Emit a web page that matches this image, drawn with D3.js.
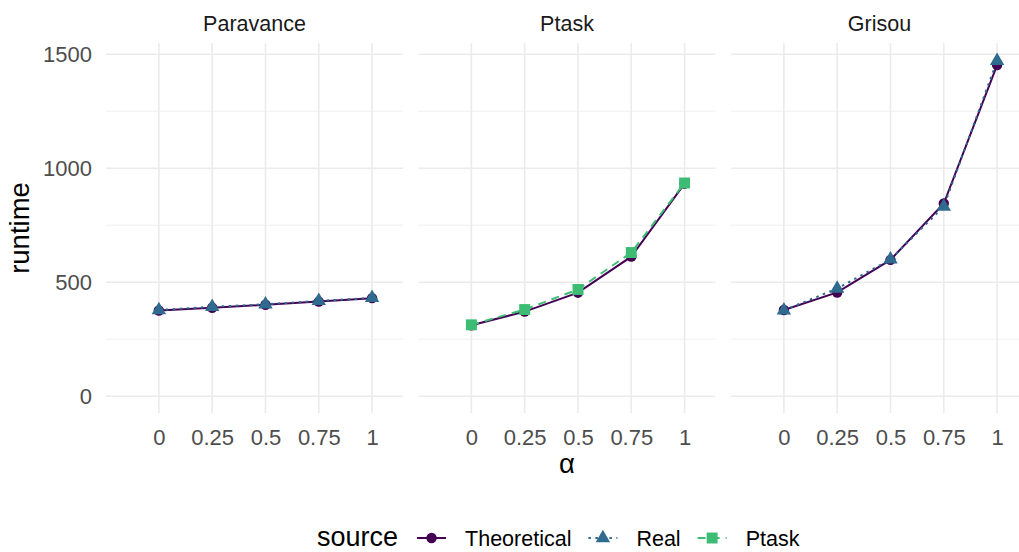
<!DOCTYPE html>
<html>
<head>
<meta charset="utf-8">
<script src="https://cdn.jsdelivr.net/npm/d3@7"></script>
<style>
  body { margin: 0; background: #fff; }
  svg { font-family: "Liberation Sans", Arial, sans-serif; }
</style>
</head>
<body>
<script>
// data
let alphas = [0, 0.25, 0.5, 0.75, 1]
let facets = ["Paravance", "Ptask", "Grisou"]
let sources = ["Theoretical", "Real", "Ptask"]
let colors = ["#440154", "#2F6B8E", "#3DBC74"]
let dashes = [null, "2.5,4.5", "8,6"]

let theoretical = {
  Paravance: [376, 388, 401, 415, 430],
  Ptask: [311, 371, 454, 612, 932],
  Grisou: [378, 455, 598, 845, 1452]
}
let real = {
  Paravance: [378, 392, 403, 418, 431],
  Grisou: [377, 472, 600, 832, 1471]
}
let ptask = {
  Ptask: [313, 380, 468, 630, 935]
}
let seriesBySource = [theoretical, real, ptask]

let yTicks = [0, 500, 1000, 1500]
let yMinor = [250, 750, 1250]
let xTickLabels = ["0", "0.25", "0.5", "0.75", "1"]

let width = 1019, height = 552
let panelLefts = [106, 418.5, 731]
let panelW = 297
let panelTop = 43.3, panelBottom = 413

let svg = d3.select("body").append("svg")
  .attr("width", width)
  .attr("height", height)

let y = d3.scaleLinear().domain([-73.7, 1547.7]).range([panelBottom, panelTop])

facets.forEach((f, i) => {
  let x = d3.scaleLinear().domain([-0.248, 1.145]).range([panelLefts[i], panelLefts[i] + panelW])
  let g = svg.append("g")

  // grid
  g.selectAll(".ymin").data(yMinor).enter().append("line")
    .attr("x1", x.range()[0]).attr("x2", x.range()[1])
    .attr("y1", d => y(d)).attr("y2", d => y(d))
    .attr("stroke", "#EBEBEB").attr("stroke-width", 0.8)
  g.selectAll(".ymaj").data(yTicks).enter().append("line")
    .attr("x1", x.range()[0]).attr("x2", x.range()[1])
    .attr("y1", d => y(d)).attr("y2", d => y(d))
    .attr("stroke", "#EBEBEB").attr("stroke-width", 1.6)
  g.selectAll(".xmaj").data(alphas).enter().append("line")
    .attr("x1", d => x(d)).attr("x2", d => x(d))
    .attr("y1", panelTop).attr("y2", panelBottom)
    .attr("stroke", "#EBEBEB").attr("stroke-width", 1.6)

  // strip
  g.append("text")
    .attr("x", (x.range()[0] + x.range()[1]) / 2)
    .attr("y", 30.5)
    .attr("text-anchor", "middle")
    .attr("font-size", 21.5)
    .attr("fill", "#1A1A1A")
    .text(f)

  // x axis
  let xAxis = g.append("g")
    .attr("transform", `translate(0,${panelBottom})`)
    .call(d3.axisBottom(x).tickValues(alphas).tickSize(0).tickPadding(16)
      .tickFormat((d, j) => xTickLabels[j]))
  xAxis.select(".domain").remove()
  xAxis.selectAll("text").attr("font-size", 22).attr("fill", "#4D4D4D")
    .attr("font-family", "Liberation Sans, Arial, sans-serif")

  if (i == 0) {
    let yAxis = g.append("g")
      .attr("transform", `translate(${x.range()[0]},0)`)
      .call(d3.axisLeft(y).tickValues(yTicks).tickSize(0).tickPadding(14)
        .tickFormat(d3.format("d")))
    yAxis.select(".domain").remove()
    yAxis.selectAll("text").attr("font-size", 22).attr("fill", "#4D4D4D")
      .attr("font-family", "Liberation Sans, Arial, sans-serif")
  }

  let line = d3.line().x((d, j) => x(alphas[j])).y(d => y(d))

  // lines
  seriesBySource.forEach((s, k) => {
    if (!s[f]) return
    g.append("path")
      .datum(s[f])
      .attr("d", line)
      .attr("fill", "none")
      .attr("stroke", colors[k])
      .attr("stroke-width", 2)
      .attr("stroke-dasharray", dashes[k])
  })

  // points
  seriesBySource.forEach((s, k) => {
    if (!s[f]) return
    g.append("g").selectAll("path")
      .data(s[f])
      .enter()
      .append("path")
        .attr("transform", (d, j) => `translate(${x(alphas[j])},${y(d)})`)
        .attr("d", symbolPath(k))
        .attr("fill", colors[k])
  })
})

function symbolPath(k) {
  if (k == 0) return d3.symbol(d3.symbolCircle, 85)()
  if (k == 1) return d3.symbol(d3.symbolTriangle, 90)()
  return d3.symbol(d3.symbolSquare, 120)()
}

// axis titles
svg.append("text")
  .attr("transform", `translate(29,228) rotate(-90)`)
  .attr("text-anchor", "middle")
  .attr("font-size", 27.5)
  .attr("fill", "#000")
  .text("runtime")

svg.append("text")
  .attr("x", 567)
  .attr("y", 473)
  .attr("text-anchor", "middle")
  .attr("font-size", 27.5)
  .attr("fill", "#000")
  .text("α")

// legend
let legend = svg.append("g").attr("transform", "translate(0,538)")
let lx = 317
let title = legend.append("text")
  .attr("x", lx).attr("y", 8)
  .attr("font-size", 27)
  .text("source")
lx += title.node().getComputedTextLength() + 19

sources.forEach((s, k) => {
  legend.append("line")
    .attr("x1", lx).attr("x2", lx + 29)
    .attr("y1", 0).attr("y2", 0)
    .attr("stroke", colors[k])
    .attr("stroke-width", 2)
    .attr("stroke-dasharray", dashes[k])
  legend.append("path")
    .attr("transform", `translate(${lx + 14.5},0)`)
    .attr("d", symbolPath(k))
    .attr("fill", colors[k])
  lx += 29 + 19
  let t = legend.append("text")
    .attr("x", lx).attr("y", 8)
    .attr("font-size", 21.5)
    .attr("fill", "#000")
    .text(s)
  lx += t.node().getComputedTextLength() + 17
})
</script>
</body>
</html>
